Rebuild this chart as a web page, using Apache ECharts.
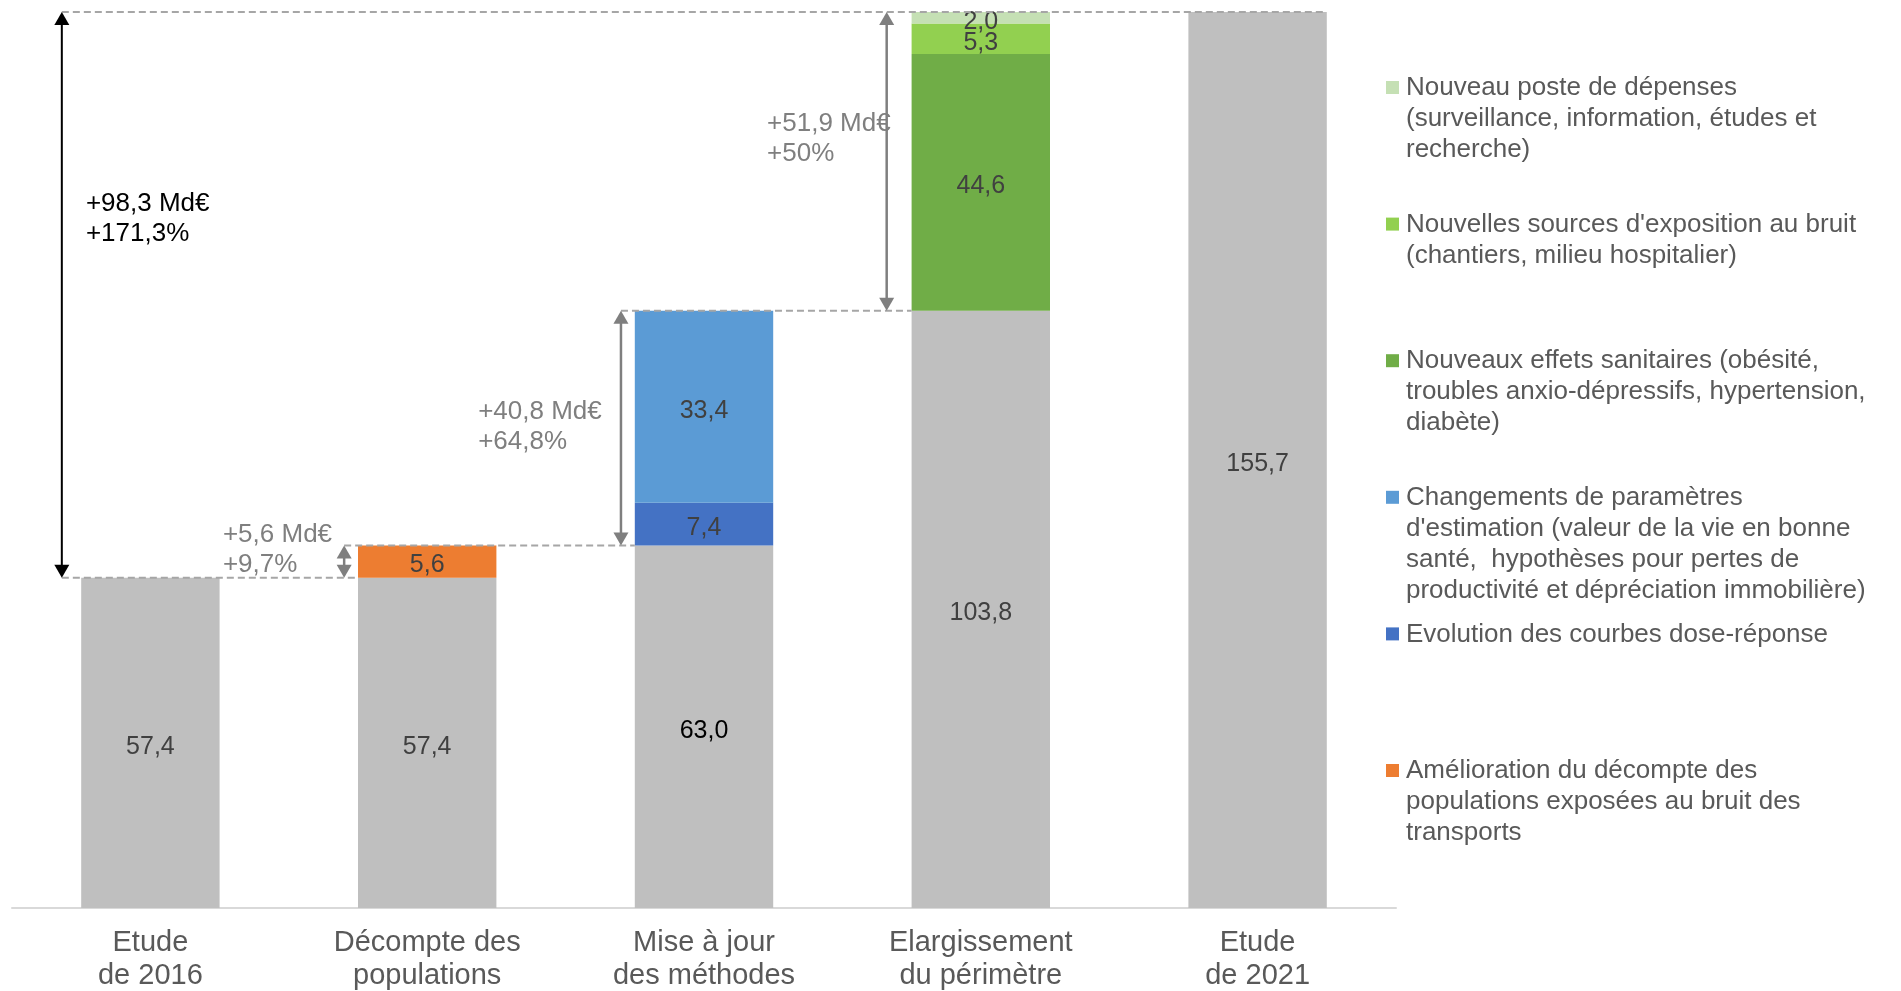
<!DOCTYPE html>
<html>
<head>
<meta charset="utf-8">
<script src="https://cdn.jsdelivr.net/npm/echarts@6/dist/echarts.min.js"></script>
<style>
html,body{margin:0;padding:0;background:#ffffff;}
#chart{width:1901px;height:991px;}
</style>
</head>
<body>
<div id="chart"></div>
<script>
// ---------- DATA ----------
const categories = ['Etude\nde 2016', 'Décompte des\npopulations', 'Mise à jour\ndes méthodes', 'Elargissement\ndu périmètre', 'Etude\nde 2021'];
const baseValues = [57.4, 57.4, 63.0, 103.8, 155.7];
const ameliorationValues = [null, 5.6, null, null, null];
const evolutionValues = [null, null, 7.4, null, null];
const changementsValues = [null, null, 33.4, null, null];
const effetsValues = [null, null, null, 44.6, null];
const sourcesValues = [null, null, null, 5.3, null];
const posteValues = [null, null, null, 2.0, null];

const seriesNames = [
  'Amélioration du décompte des populations exposées au bruit des transports',
  'Evolution des courbes dose-réponse',
  "Changements de paramètres d'estimation",
  'Nouveaux effets sanitaires',
  "Nouvelles sources d'exposition au bruit",
  'Nouveau poste de dépenses'
];
const legendLabels = [
  'Amélioration du décompte des\npopulations exposées au bruit des\ntransports',
  'Evolution des courbes dose-réponse',
  "Changements de paramètres\nd'estimation (valeur de la vie en bonne\nsanté,  hypothèses pour pertes de\nproductivité et dépréciation immobilière)",
  'Nouveaux effets sanitaires (obésité,\ntroubles anxio-dépressifs, hypertension,\ndiabète)',
  "Nouvelles sources d'exposition au bruit\n(chantiers, milieu hospitalier)",
  'Nouveau poste de dépenses\n(surveillance, information, études et\nrecherche)'
];
const annotationLabels = ['+98,3 Md€\n+171,3%', '+5,6 Md€\n+9,7%', '+40,8 Md€\n+64,8%', '+51,9 Md€\n+50%'];
const arrowFrom = [57.4, 57.4, 63.0, 103.8];
const arrowTo = [155.7, 63.0, 103.8, 155.7];

// ---------- STYLE / LAYOUT ----------
const FONT = '"Liberation Sans", Arial, sans-serif';
const baseColor = '#BFBFBF';
const stepColors = ['#ED7D31', '#4472C4', '#5B9BD5', '#70AD47', '#92D050', '#C5E0B4'];
const stepValues = [ameliorationValues, evolutionValues, changementsValues, effetsValues, sourcesValues, posteValues];
// annotation anchors on hidden value x axis (category i spans i-0.5..i+0.5)
const arrowX = [-0.32, 0.70, 1.70, 2.66];
const labelX = [-0.233, 0.262, 1.184, 2.228];
const labelY = [119.7, 62.3, 83.6, 133.6];
const annotationColors = ['#000000', '#7F7F7F', '#7F7F7F', '#7F7F7F'];
const guideStart = [arrowX[0], arrowX[0], arrowX[1], arrowX[2]];
const guideEnd = [4.25, 0.75, 1.75, 2.75];
const guideLevels = [arrowTo[0], arrowFrom[0], arrowFrom[2], arrowFrom[3]];

const fmt = v => (v == null ? '' : Number(v).toFixed(1).replace('.', ','));

const chart = echarts.init(document.getElementById('chart'), null, {renderer: 'canvas'});

const valueLabel = {
  show: true, position: 'inside', offset: [0, 4], fontFamily: FONT, fontSize: 25, color: '#404040',
  formatter: p => fmt(p.value)
};

const series = [];
series.push({
  name: 'Base',
  type: 'bar',
  stack: 'total',
  barWidth: '50%',
  itemStyle: {color: baseColor},
  label: valueLabel,
  data: baseValues.map((v, i) => i === 2 ? {value: v, label: {color: '#000000'}} : v)
});
stepValues.forEach((arr, k) => {
  series.push({
    name: seriesNames[k],
    type: 'bar',
    stack: 'total',
    barWidth: '50%',
    itemStyle: {color: stepColors[k]},
    label: valueLabel,
    data: arr
  });
});

// dashed guide lines
series.push({
  type: 'custom',
  xAxisIndex: 1,
  yAxisIndex: 0,
  silent: true,
  z: 5,
  data: guideLevels.map((y, i) => [guideStart[i], y, guideEnd[i]]),
  renderItem: function (params, api) {
    const a = api.coord([api.value(0), api.value(1)]);
    const b = api.coord([api.value(2), api.value(1)]);
    return {
      type: 'line',
      shape: {x1: a[0], y1: a[1], x2: b[0], y2: b[1]},
      style: {stroke: '#A6A6A6', lineWidth: 2, lineDash: [7, 4]}
    };
  }
});

// double arrows with labels
series.push({
  type: 'custom',
  xAxisIndex: 1,
  yAxisIndex: 0,
  silent: true,
  z: 6,
  data: arrowFrom.map((v, i) => [arrowX[i], v, arrowTo[i], labelX[i], labelY[i], i]),
  renderItem: function (params, api) {
    const i = api.value(5);
    const p1 = api.coord([api.value(0), api.value(1)]);
    const p2 = api.coord([api.value(0), api.value(2)]);
    const lp = api.coord([api.value(3), api.value(4)]);
    const x = p1[0];
    const top = Math.min(p1[1], p2[1]);
    const bot = Math.max(p1[1], p2[1]);
    const color = annotationColors[i];
    const h = 13, w = 15;
    return {
      type: 'group',
      children: [
        {type: 'line', shape: {x1: x, y1: top + h - 1, x2: x, y2: bot - h + 1},
          style: {stroke: color, lineWidth: i === 0 ? 2 : 2.5}},
        {type: 'polygon', shape: {points: [[x, top], [x - w / 2, top + h], [x + w / 2, top + h]]},
          style: {fill: color}},
        {type: 'polygon', shape: {points: [[x, bot], [x - w / 2, bot - h], [x + w / 2, bot - h]]},
          style: {fill: color}},
        {type: 'text', style: {
          text: annotationLabels[i], x: lp[0], y: lp[1],
          fill: color, fontFamily: FONT, fontSize: 26, lineHeight: 30,
          align: 'left', verticalAlign: 'middle'
        }}
      ]
    };
  }
});

// legend drawn as graphic (items start at evenly spaced tops, marker on first line)
const legendGraphic = [];
const legendOrder = [5, 4, 3, 2, 1, 0];
legendOrder.forEach((k, row) => {
  const capTop = 79 + row * 136.6;
  legendGraphic.push({
    type: 'rect', left: 1386, top: capTop + 2,
    shape: {width: 13, height: 13},
    style: {fill: stepColors[k]}, silent: true
  });
  legendGraphic.push({
    type: 'text', left: 1406, top: capTop - 6.5,
    style: {text: legendLabels[k], fill: '#595959', fontFamily: FONT, fontSize: 26, lineHeight: 31},
    silent: true
  });
});

const option = {
  animation: false,
  backgroundColor: '#ffffff',
  grid: {left: 12, right: 505, top: 12, bottom: 83, containLabel: false, outerBoundsMode: 'none'},
  xAxis: [
    {
      type: 'category',
      data: categories,
      axisTick: {show: false},
      axisLine: {show: true, lineStyle: {color: '#D9D9D9', width: 2}},
      axisLabel: {interval: 0, margin: 18, fontFamily: FONT, fontSize: 29, lineHeight: 33, color: '#595959'}
    },
    {type: 'value', min: -0.5, max: 4.5, show: false}
  ],
  yAxis: {type: 'value', min: 0, max: baseValues[4], show: false, splitLine: {show: false}},
  series: series,
  graphic: legendGraphic
};
chart.setOption(option);
</script>
</body>
</html>
